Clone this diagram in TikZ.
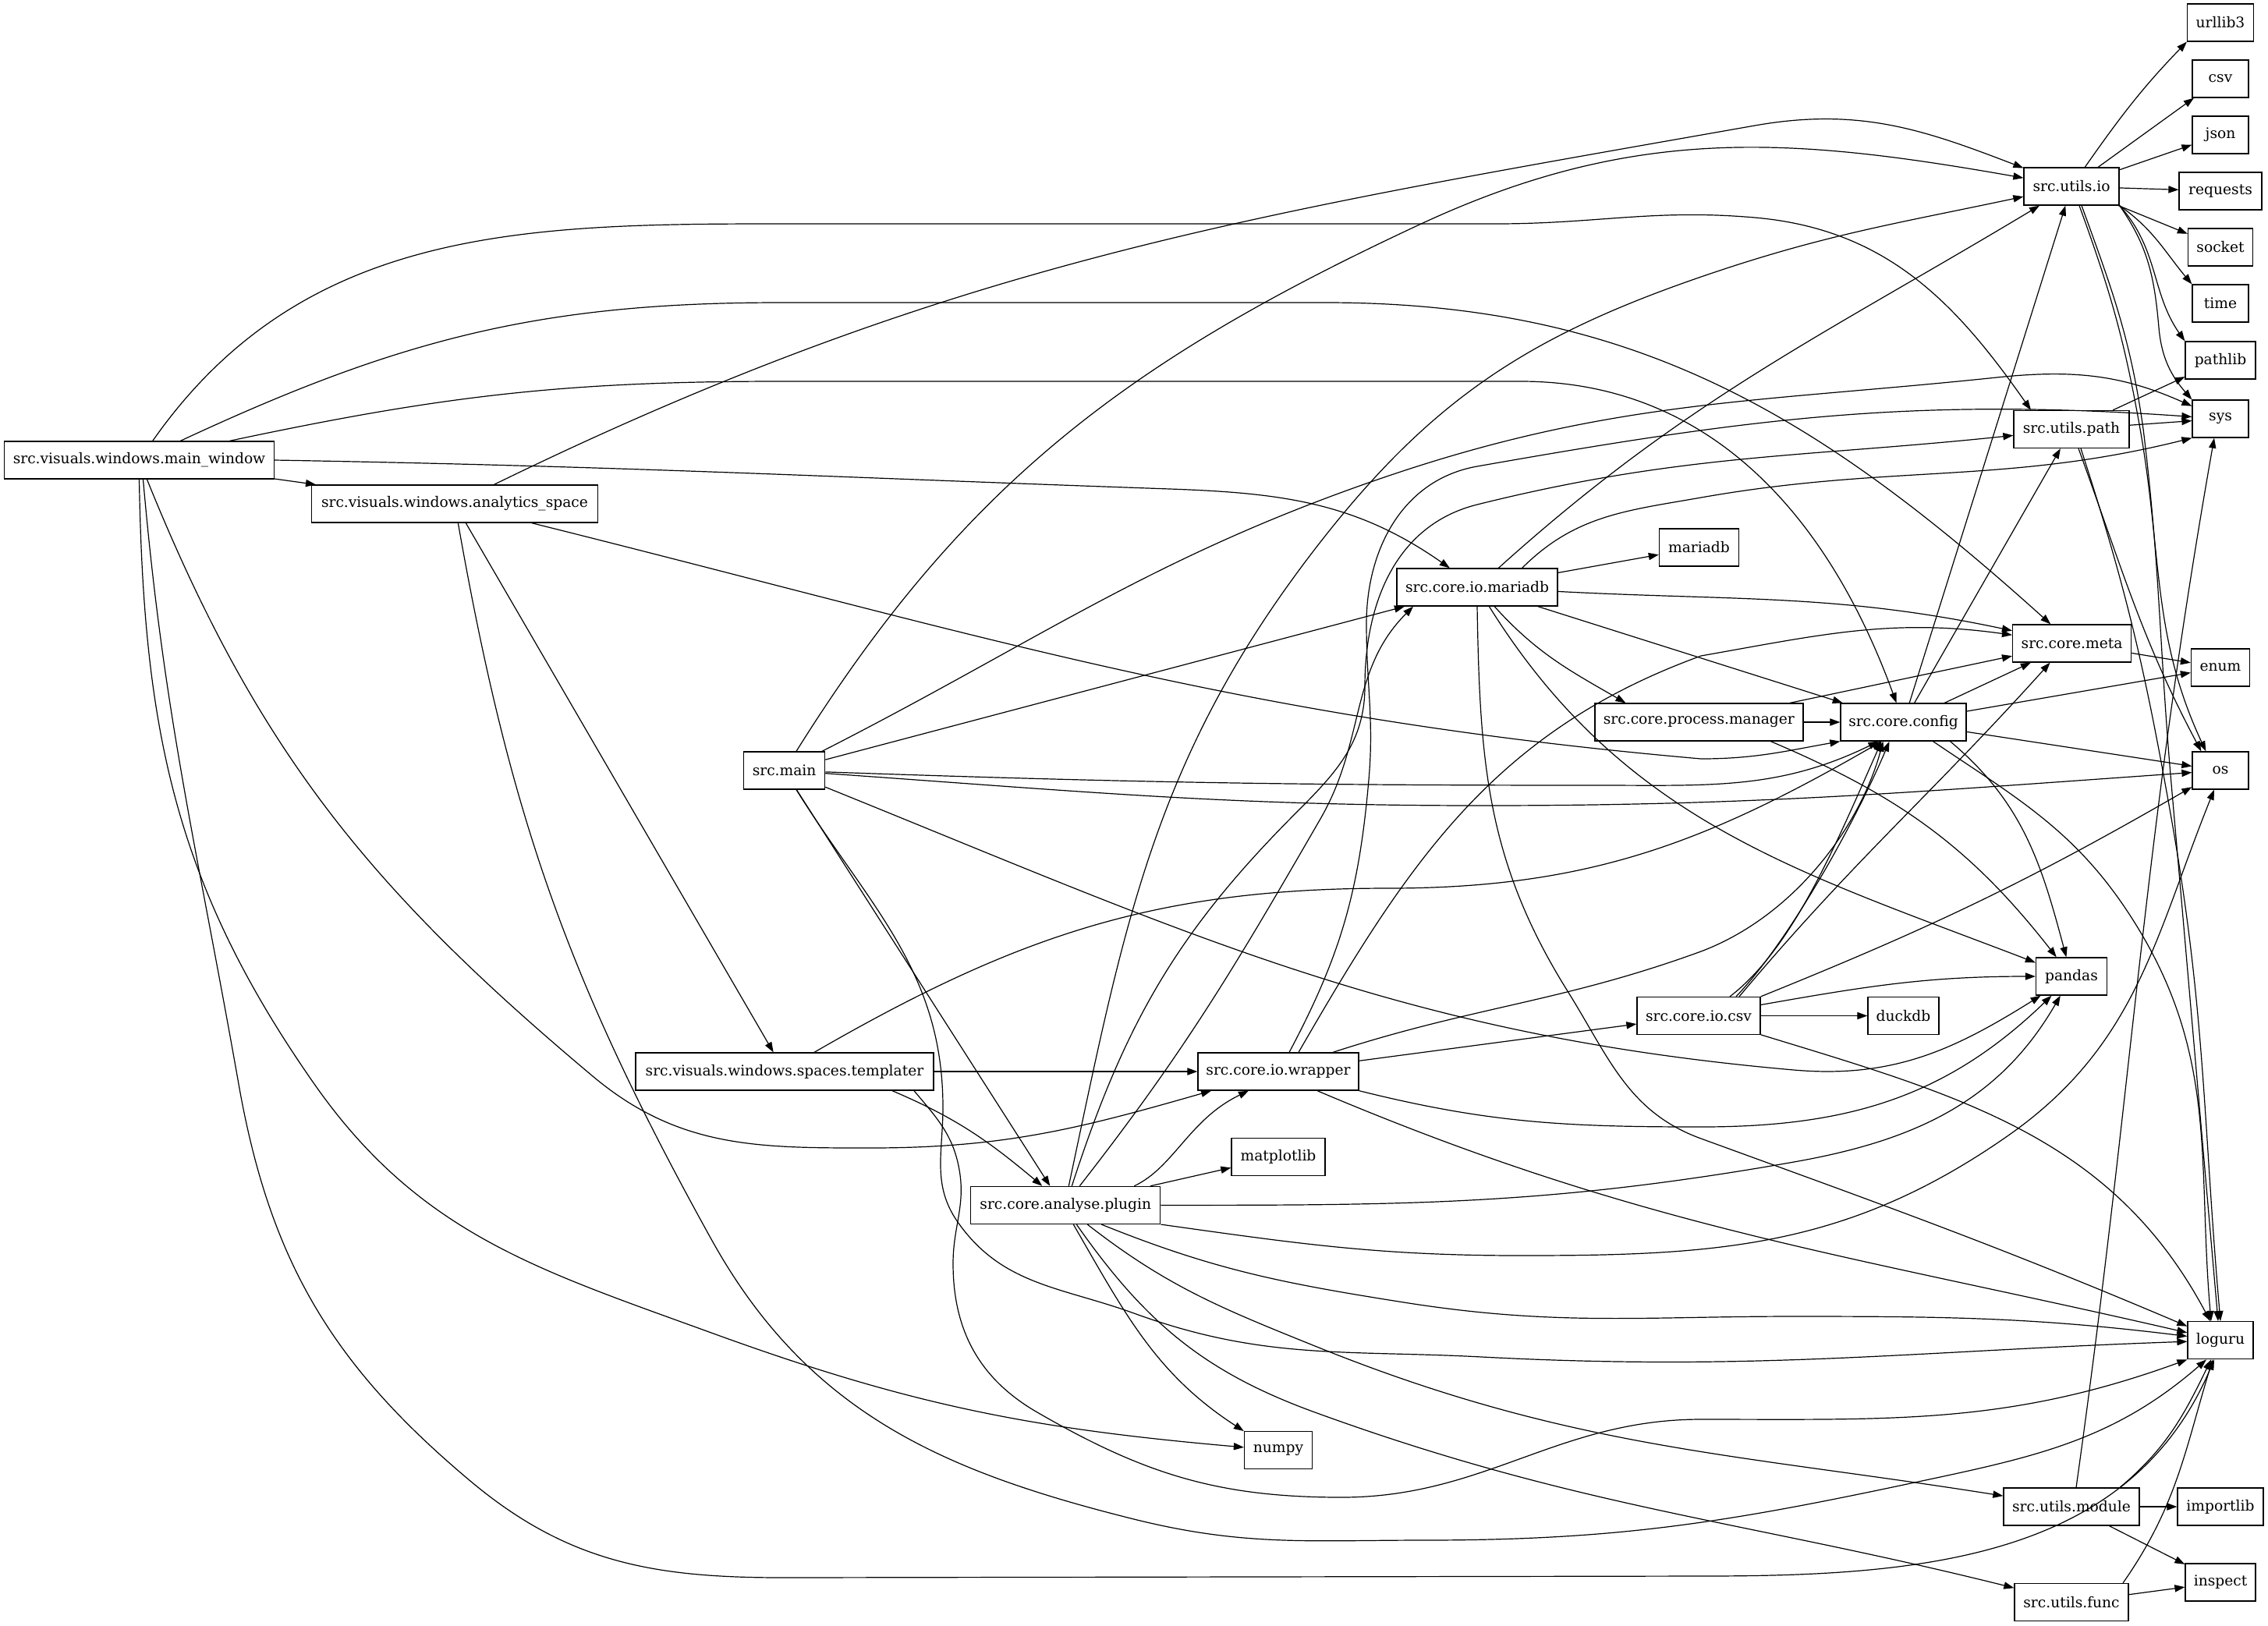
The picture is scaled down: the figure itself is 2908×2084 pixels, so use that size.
\documentclass[tikz,border=0pt]{standalone}
\usepackage{fontspec}
\setmainfont{DejaVu Serif}
\usetikzlibrary{arrows.meta}
\newcommand\gvf{\fontsize{9.33pt}{11pt}\selectfont}
\begin{document}
\begin{tikzpicture}[x=0.5pt,y=-0.5pt,
  nd/.style={draw,rectangle,minimum height=24pt,inner sep=0pt,font=\gvf,line width=0.65pt},
  ed/.style={-{Triangle[length=6.5pt,width=4.6pt]},line width=0.6pt}]
\fill[white] (0,0) rectangle (2908,2084);
\useasboundingbox (0,0) rectangle (2908,2084);
% nodes
\node[nd, minimum width=173pt] (mw) at (178.5,590) {src.visuals.windows.main\_window};
\node[nd, minimum width=183.5pt] (as) at (583,646) {src.visuals.windows.analytics\_space};
\node[nd, minimum width=52pt] (sm) at (1005.6,988) {src.main};
\node[nd, minimum width=191pt] (tp) at (1006,1374) {src.visuals.windows.spaces.templater};
\node[nd, minimum width=121.5pt] (pl) at (1366.3,1545.4) {src.core.analyse.plugin};
\node[nd, minimum width=103pt] (wr) at (1639,1374) {src.core.io.wrapper};
\node[nd, minimum width=60pt] (mpl) at (1639,1483.6) {matplotlib};
\node[nd, minimum width=43.5pt] (np) at (1639,1859.7) {numpy};
\node[nd, minimum width=103pt] (cm) at (1894,753) {src.core.io.mariadb};
\node[nd, minimum width=51pt] (mdb) at (2178.4,702) {mariadb};
\node[nd, minimum width=133.5pt] (pm) at (2178.4,926) {src.core.process.manager};
\node[nd, minimum width=79pt] (ccsv) at (2178,1302.5) {src.core.io.csv};
\node[nd, minimum width=80.5pt] (cfg) at (2440.5,926) {src.core.config};
\node[nd, minimum width=45.5pt] (duck) at (2440.5,1302.5) {duckdb};
\node[nd, minimum width=61pt] (uio) at (2656,239) {src.utils.io};
\node[nd, minimum width=74pt] (upath) at (2656,550.5) {src.utils.path};
\node[nd, minimum width=76pt] (meta) at (2656.6,825) {src.core.meta};
\node[nd, minimum width=45.5pt] (pandas) at (2656,1252) {pandas};
\node[nd, minimum width=87pt] (umod) at (2656,1932) {src.utils.module};
\node[nd, minimum width=73pt] (ufunc) at (2656,2054.5) {src.utils.func};
\node[nd, minimum width=42.5pt] (urllib3) at (2847,29) {urllib3};
\node[nd, minimum width=36pt] (csv) at (2847,101) {csv};
\node[nd, minimum width=36pt] (json) at (2847,173) {json};
\node[nd, minimum width=53pt] (requests) at (2847,245) {requests};
\node[nd, minimum width=41.5pt] (socket) at (2847,317) {socket};
\node[nd, minimum width=36pt] (time) at (2847,389) {time};
\node[nd, minimum width=45pt] (pathlib) at (2847,462) {pathlib};
\node[nd, minimum width=36pt] (sys) at (2847,537) {sys};
\node[nd, minimum width=37.5pt] (enum) at (2847,856) {enum};
\node[nd, minimum width=36pt] (os) at (2847,988) {os};
\node[nd, minimum width=42pt] (loguru) at (2847,1718.7) {loguru};
\node[nd, minimum width=55pt] (importlib) at (2847,1932) {importlib};
\node[nd, minimum width=45pt] (inspect) at (2847,2029) {inspect};
% main_window
\draw[ed] (mw) to[out=55,in=180] (990,287) -- (1918,287) to[out=0,in=175] (2250,279) to[out=-5,in=125] ([xshift=-26pt]upath.north);
\draw[ed] (mw) to[out=25,in=180] (1000,388) -- (1700,388) to[out=0,in=138] (meta);
\draw[ed] (mw) to[out=12,in=180] (1000,489) -- (1950,489) to[out=0,in=110] (cfg);
\draw[ed] (mw.east) to[out=-1,in=178] (1500,627) to[out=-2,in=145] (cm);
\draw[ed] (mw) -- (as);
\draw[ed] (mw) to[out=-68,in=140] (760,1380) to[out=-40,in=180] (1116,1472) to[out=0,in=196] (wr);
\draw[ed] (mw.south) to[out=-89,in=125] (403,1390) to[out=-55,in=160] (912,1709) to[out=-20,in=175] (np);
\draw[ed] ([xshift=2.5pt]mw.south) to[out=-85,in=100] (306,1390) to[out=-80,in=140] (603,1899) to[out=-40,in=180] (1005,2023) -- (2181,2021) to[out=0,in=-113] ([xshift=-4pt]loguru.south);
% analytics_space
\draw[ed] (as) to[out=26,in=190] (2250,161) to[out=10,in=159] (uio);
\draw[ed] (as) to[out=-14,in=175] (2181,973) to[out=0,in=190] (cfg.south west);
\draw[ed] (as) -- (tp);
\draw[ed] (as) to[out=-80,in=119] (912,1589) to[out=-61,in=166] (1454,1948) to[out=-14,in=180] (1825,1975) to[out=0,in=192] (2450,1902) to[out=12,in=221] ([xshift=-9pt]loguru.south);
% src.main
\draw[ed] (sm) to[out=58,in=205] (1820,288) to[out=25,in=170] (uio);
\draw[ed] (sm) to[out=27,in=199] (1769,614) to[out=19,in=186] (2560,484) to[out=6,in=156] (sys);
\draw[ed] (sm) -- (cm);
\draw[ed] (sm) to[out=-2,in=180] (2050,1007) to[out=0,in=206] ([xshift=-16pt]cfg.south);
\draw[ed] (sm) to[out=-4,in=180] (1900,1033) to[out=0,in=184] (os);
\draw[ed] (sm) to[out=-22,in=175] (2300,1372) to[out=-5,in=212] (pandas);
\draw[ed] (sm) -- ([xshift=-10pt]pl.north);
\draw[ed] (sm) to[out=-58,in=90] (1209,1420) to[out=-90,in=125] (1228,1567) to[out=-55,in=160] (1454,1684) to[out=-20,in=177] (1900,1740) to[out=-3,in=182] (loguru);
% templater
\draw[ed] ([xshift=19pt]tp.north) to[out=30,in=180] (1780,1139) to[out=0,in=210] ([xshift=-14pt]cfg.south);
\draw[ed] (tp) -- (wr);
\draw[ed] ([xshift=69pt]tp.south) to[out=-23,in=140] ([xshift=-15pt]pl.north);
\draw[ed] ([xshift=83pt]tp.south) to[out=-50,in=100] (1230,1500) to[out=-80,in=90] (1222,1620) to[out=-90,in=150] (1330,1811) to[out=-30,in=180] (1720,1920) to[out=0,in=180] (2181,1820) to[out=0,in=200] (loguru.south west);
% plugin
\draw[ed] ([xshift=2pt]pl.north) to[out=78,in=232] (1693,695) to[out=52,in=199] (2181,355) to[out=19,in=192] (uio);
\draw[ed] ([xshift=9pt]pl.north) to[out=52,in=240] (1693,1050) to[out=60,in=225] ([xshift=-41pt]cm.south);
\draw[ed] ([xshift=4pt]pl.north) to[out=72,in=225] (1663,1041) to[out=45,in=270] (1750,880) to[out=90,in=194] (1894,647) to[out=14,in=186] (upath);
\draw[ed] ([xshift=44pt]pl.north) .. controls (1505,1497) and (1525,1435) .. ([xshift=-19pt]wr.south);
\draw[ed] (pl) -- (mpl);
\draw[ed] (pl) to[out=0,in=190] (2300,1490) to[out=10,in=240] (pandas);
\draw[ed] (pl.south east) to[out=-8,in=180] (1950,1610) to[out=0,in=215] (2575,1456) to[out=35,in=248] ([xshift=-4pt]os.south);
\draw[ed] ([xshift=23pt]pl.south) to[out=-22,in=171] (1800,1670) to[out=-9,in=180] (2300,1688) to[out=0,in=173] (loguru);
\draw[ed] ([xshift=14pt]pl.south) to[out=-38,in=158] (1686,1726) to[out=-22,in=171] (umod);
\draw[ed] ([xshift=7pt]pl.south) to[out=-55,in=160] (1686,1811) to[out=-20,in=166] (ufunc);
\draw[ed] ([xshift=5pt]pl.south) to[out=-60,in=147] (np.north west);
% wrapper
\draw[ed] ([xshift=7pt]wr.north) to[out=62,in=265] (1755,1000) to[out=85,in=270] (1752,800) to[out=90,in=190] (1894,598) to[out=10,in=176] (sys);
\draw[ed] ([xshift=13pt]wr.north) to[out=60,in=200] (2181,841) to[out=10,in=172] (meta);
\draw[ed] ([xshift=35pt]wr.north) to[out=18,in=200] (2181,1220) .. controls (2300,1175) and (2385,1060) .. ([xshift=-13pt]cfg.south);
\draw[ed] (wr) -- (ccsv);
\draw[ed] (wr.south east) to[out=-14,in=180] (2181,1445) to[out=0,in=224] (pandas);
\draw[ed] ([xshift=25pt]wr.south) to[out=-23,in=167] (loguru);
% core.io.mariadb
\draw[ed] (cm) to[out=42,in=211] (uio);
\draw[ed] ([xshift=-23pt]cm.north east) to[out=45,in=190] (2181,638) to[out=10,in=194] (sys.south west);
\draw[ed] (cm) -- (mdb);
\draw[ed] (cm) to[out=-3,in=168] (meta);
\draw[ed] (cm) -- (cfg);
\draw[ed] (cm) to[out=-48,in=150] ([xshift=-47pt]pm.north);
\draw[ed] (cm) to[out=-58,in=159] (pandas);
\draw[ed] (cm.south) to[out=-89,in=122] (2010,1271) to[out=-58,in=160] (2181,1460) to[out=-20,in=157] (loguru);
% process.manager
\draw[ed] (pm) -- (meta);
\draw[ed] (pm) -- (cfg);
\draw[ed] ([xshift=46pt]pm.south) to[out=-23,in=128] (pandas);
% core.io.csv
\draw[ed] ([xshift=26pt]ccsv.north) to[out=50,in=228] ([xshift=-14pt]meta.south);
\draw[ed] ([xshift=20pt]ccsv.north) .. controls (2300,1215) and (2355,1080) .. ([xshift=-14pt]cfg.south);
\draw[ed] ([xshift=24pt]ccsv.north) .. controls (2300,1200) and (2385,1040) .. ([xshift=-9pt]cfg.south);
\draw[ed] (ccsv.north east) to[out=22,in=210] (os);
\draw[ed] (ccsv) to[out=10,in=180] (pandas);
\draw[ed] (ccsv) -- (duck);
\draw[ed] (ccsv) to[out=-17,in=118] (loguru);
% config
\draw[ed] (cfg) -- (uio);
\draw[ed] (cfg) -- (upath);
\draw[ed] (cfg) -- (meta);
\draw[ed] (cfg) -- (enum);
\draw[ed] (cfg) -- (os);
\draw[ed] ([xshift=30pt]cfg.south) to[out=-40,in=105] (pandas);
\draw[ed] ([xshift=19pt]cfg.south) to[out=-34,in=122] (2737,1183) to[out=-58,in=95] ([xshift=-6pt]loguru.north);
% meta
\draw[ed] (meta) -- (enum);
% utils.io
\draw[ed] (uio) to[out=55,in=226] (urllib3.south west);
\draw[ed] (uio) -- (csv);
\draw[ed] (uio) -- (json);
\draw[ed] (uio) -- (requests);
\draw[ed] (uio) -- (socket);
\draw[ed] (uio.south east) to[out=-35,in=130] (time.north west);
\draw[ed] (uio.south east) to[out=-48,in=125] (pathlib.north west);
\draw[ed] (uio.south east) to[out=-55,in=95] (2768,420) to[out=-85,in=131] (sys.north west);
\draw[ed] ([xshift=5pt]uio.south) to[out=-70,in=100] (2744,550) to[out=-80,in=115] ([xshift=9pt]os.north west);
\draw[ed] ([xshift=6.5pt]uio.south) to[out=-70,in=98] (2748,550) to[out=-83,in=95] (2784,1005) to[out=-85,in=95] ([xshift=-1.5pt]loguru.north);
% utils.path
\draw[ed] (upath) -- (pathlib);
\draw[ed] (upath) -- (sys);
\draw[ed] ([xshift=4.5pt]upath.south) to[out=-70,in=118] ([xshift=6pt]os.north west);
\draw[ed] ([xshift=6pt]upath.south) to[out=-72,in=100] (2784,1049) to[out=-80,in=95] (loguru.north);
% utils.module
\draw[ed] ([xshift=3pt]umod.north) to[out=82,in=-100] ([xshift=-4pt]sys.south);
\draw[ed] (umod) -- (importlib);
\draw[ed] (umod) -- (inspect);
\draw[ed] ([xshift=31pt]umod.north) to[out=40,in=-116] ([xshift=-6pt]loguru.south);
% utils.func
\draw[ed] (ufunc) -- (inspect);
\draw[ed] ([xshift=33pt]ufunc.north) to[out=55,in=-107] ([xshift=-5pt]loguru.south);
\end{tikzpicture}
\end{document}
